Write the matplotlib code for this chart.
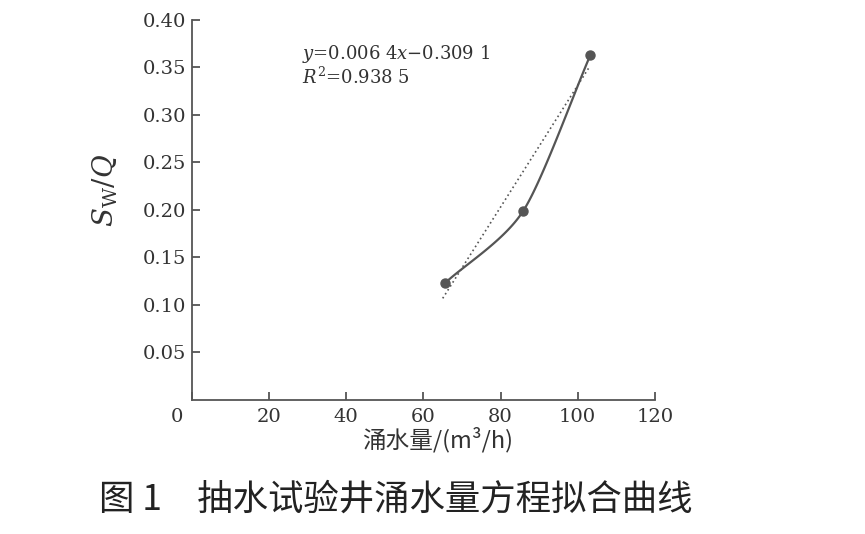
import matplotlib
matplotlib.use('Agg')
import matplotlib.pyplot as plt
import matplotlib.transforms as mtransforms
import numpy as np

plt.rcParams['font.family'] = ['DejaVu Serif']
plt.rcParams['mathtext.fontset'] = 'dejavuserif'

# data
flow = [65.6, 85.9, 103.3]          # 涌水量 m3/h
sw_q = [0.123, 0.199, 0.363]        # Sw/Q
slope = 0.0064
intercept = -0.3091
fit_range = [65.0, 102.8]
x_ticks = [0, 20, 40, 60, 80, 100, 120]
y_ticks = [0.05, 0.10, 0.15, 0.20, 0.25, 0.30, 0.35, 0.40]

grey = '#555555'


def smooth(xs, ys, k=0.13, n=50):
    # bezier smoothing through the points, small tension
    p = np.column_stack([xs, ys]).astype(float)
    m = len(p)
    tang = np.zeros_like(p)
    for i in range(m):
        if i == 0:
            tang[i] = (p[1] - p[0]) * 2 * k
        elif i == m - 1:
            tang[i] = (p[-1] - p[-2]) * 2 * k
        else:
            tang[i] = (p[i + 1] - p[i - 1]) * k
    t = np.linspace(0, 1, n)[:, None]
    out = []
    for i in range(m - 1):
        c1 = p[i] + tang[i]
        c2 = p[i + 1] - tang[i + 1]
        b = (1 - t) ** 3 * p[i] + 3 * (1 - t) ** 2 * t * c1 + 3 * (1 - t) * t ** 2 * c2 + t ** 3 * p[i + 1]
        out.append(b)
    out = np.vstack(out)
    return out[:, 0], out[:, 1]


fig = plt.figure(figsize=(8.65, 5.34), dpi=100)
ax = fig.add_axes([0.222, 0.251, 0.535, 0.712])

sx, sy = smooth(flow, sw_q)
ax.plot(sx, sy, color=grey, lw=1.6, zorder=3)
ax.plot(flow, sw_q, 'o', color=grey, ms=6.5, zorder=4)

fx = np.array(fit_range)
ax.plot(fx, slope * fx + intercept, linestyle=(0, (1, 1.8)), color=grey, lw=1.2, zorder=2)

ax.set_xlim(0, 120)
ax.set_ylim(0, 0.40)
ax.set_xticks(x_ticks)
ax.set_yticks(y_ticks)
ax.set_yticklabels(['%.2f' % v for v in y_ticks])
for s in ['top', 'right']:
    ax.spines[s].set_visible(False)
for s in ['left', 'bottom']:
    ax.spines[s].set_color(grey)
    ax.spines[s].set_linewidth(1.3)
ax.tick_params(direction='in', length=6, width=1.3, color=grey, labelsize=14,
               labelcolor='#333333')
ax.tick_params(axis='x', pad=6)
ax.tick_params(axis='y', pad=4)

# origin label sits left of the axis corner
lbl0 = ax.get_xticklabels()[0]
lbl0.set_transform(lbl0.get_transform() +
                   mtransforms.ScaledTranslation(-0.15, 0, fig.dpi_scale_trans))

ax.set_ylabel(r'$S_{\rm W}/Q$', fontsize=20, color='#333333')
ax.yaxis.set_label_coords(-0.155, 0.55)
ax.set_xlabel('涌水量/(m³/h)', fontsize=17, color='#333333',
              family=['Noto Sans CJK SC', 'DejaVu Serif'])
ax.xaxis.set_label_coords(0.53, -0.072)

ax.text(0.237, 0.91, r'$y$=0.006 4$x$−0.309 1', transform=ax.transAxes,
        fontsize=13, color='#333333', va='center')
ax.text(0.237, 0.85, r'$R^2$=0.938 5', transform=ax.transAxes,
        fontsize=13, color='#333333', va='center')

fig.text(0.457, 0.064, '图 1　抽水试验井涌水量方程拟合曲线', fontsize=25.5,
         family=['Noto Sans CJK SC', 'DejaVu Sans'], ha='center', va='center',
         color='#222222')

fig.savefig('out.png', dpi=100)
